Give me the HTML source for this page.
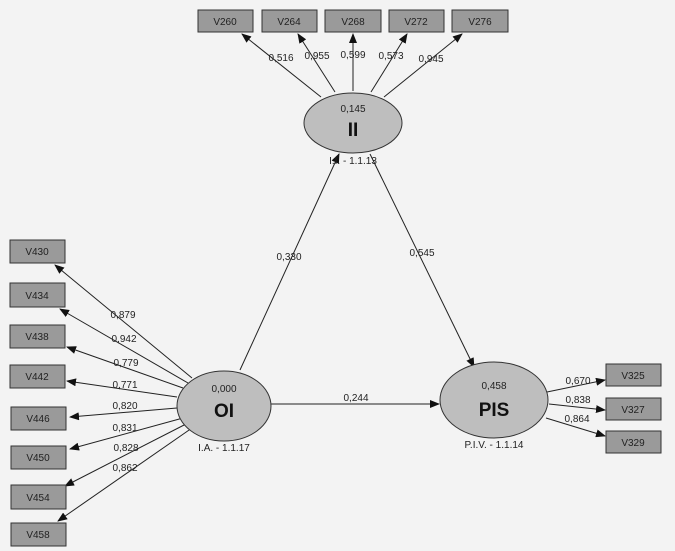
<!DOCTYPE html>
<html><head><style>
body{margin:0;background:#f3f3f3;}
svg{display:block;font-family:"Liberation Sans",sans-serif;}
</style></head><body>
<svg width="675" height="551" viewBox="0 0 675 551">
<defs><marker id="a" markerWidth="10" markerHeight="8" refX="9" refY="4" orient="auto" markerUnits="userSpaceOnUse"><path d="M0,0L10,4L0,8z" fill="#111"/></marker></defs>
<rect width="675" height="551" fill="#f3f3f3"/>
<g stroke="#222" stroke-width="1" marker-end="url(#a)">
<line x1="321" y1="97" x2="242" y2="34"/>
<line x1="335" y1="92" x2="298" y2="34"/>
<line x1="353" y1="91" x2="353" y2="34"/>
<line x1="371" y1="92" x2="407" y2="34"/>
<line x1="384" y1="97" x2="462" y2="34"/>
<line x1="192" y1="378" x2="55" y2="265"/>
<line x1="188" y1="383" x2="60" y2="309"/>
<line x1="183" y1="388" x2="67" y2="347"/>
<line x1="177" y1="397" x2="67" y2="381"/>
<line x1="177" y1="408" x2="70" y2="417"/>
<line x1="183" y1="418" x2="70" y2="449"/>
<line x1="188" y1="423" x2="65" y2="486"/>
<line x1="192" y1="428" x2="58" y2="521"/>
<line x1="547" y1="392" x2="605" y2="380"/>
<line x1="549" y1="404" x2="605" y2="410"/>
<line x1="546" y1="418" x2="605" y2="436"/>
<line x1="240" y1="370" x2="339" y2="154"/>
<line x1="370" y1="154" x2="474" y2="367"/>
<line x1="271" y1="404" x2="439" y2="404"/>
</g>
<g fill="#9a9a9a" stroke="#333">
<rect x="198" y="10" width="55" height="22"/><rect x="262" y="10" width="55" height="22"/><rect x="325" y="10" width="56" height="22"/><rect x="389" y="10" width="55" height="22"/><rect x="452" y="10" width="56" height="22"/>
<rect x="10" y="240" width="55" height="23"/><rect x="10" y="283" width="55" height="24"/><rect x="10" y="325" width="55" height="23"/><rect x="10" y="365" width="55" height="23"/><rect x="11" y="407" width="55" height="23"/><rect x="11" y="446" width="55" height="23"/><rect x="11" y="485" width="55" height="24"/><rect x="11" y="523" width="55" height="23"/>
<rect x="606" y="364" width="55" height="22"/><rect x="606" y="398" width="55" height="22"/><rect x="606" y="431" width="55" height="22"/>
</g>
<g fill="#bebebe" stroke="#333">
<ellipse cx="353" cy="123" rx="49" ry="30"/>
<ellipse cx="224" cy="406" rx="47" ry="35"/>
<ellipse cx="494" cy="400" rx="54" ry="38"/>
</g>
<g font-size="10" fill="#222" text-anchor="middle">
<text x="225" y="25">V260</text><text x="289" y="25">V264</text><text x="353" y="25">V268</text><text x="416" y="25">V272</text><text x="480" y="25">V276</text>
<text x="37" y="255">V430</text><text x="37" y="299">V434</text><text x="37" y="340">V438</text><text x="37" y="380">V442</text><text x="38" y="422">V446</text><text x="38" y="461">V450</text><text x="38" y="501">V454</text><text x="38" y="538">V458</text>
<text x="633" y="379">V325</text><text x="633" y="413">V327</text><text x="633" y="446">V329</text>
<text x="281" y="61">0,516</text><text x="317" y="59">0,955</text><text x="353" y="58">0,599</text><text x="391" y="59">0,573</text><text x="431" y="62">0,945</text>
<text x="123" y="318">0,879</text><text x="124" y="342">0,942</text><text x="126" y="366">0,779</text><text x="125" y="388">0,771</text><text x="125" y="409">0,820</text><text x="125" y="431">0,831</text><text x="126" y="451">0,828</text><text x="125" y="471">0,862</text>
<text x="578" y="384">0,670</text><text x="578" y="403">0,838</text><text x="577" y="422">0,864</text>
<text x="289" y="260">0,330</text><text x="422" y="256">0,545</text><text x="356" y="401">0,244</text>
<text x="353" y="112">0,145</text><text x="224" y="392">0,000</text><text x="494" y="389">0,458</text>
<text x="353" y="164">I.I. - 1.1.13</text><text x="224" y="451">I.A. - 1.1.17</text><text x="494" y="448">P.I.V. - 1.1.14</text>
</g>
<g font-size="19" font-weight="bold" fill="#111" text-anchor="middle">
<text x="353" y="136">II</text><text x="224" y="417">OI</text><text x="494" y="416">PIS</text>
</g>
</svg>
</body></html>
